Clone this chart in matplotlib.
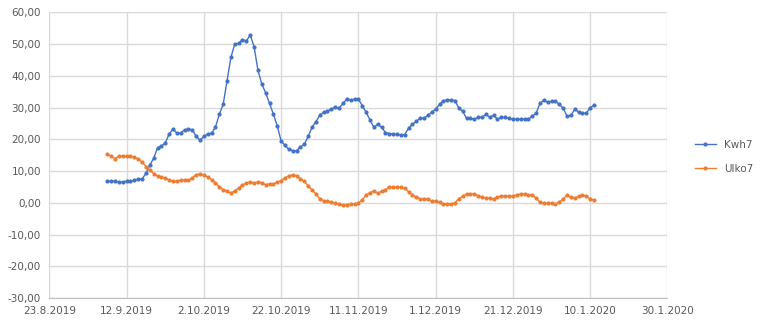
import matplotlib
matplotlib.use("Agg")
import matplotlib.pyplot as plt
import matplotlib.dates as mdates
from matplotlib.ticker import FuncFormatter, MultipleLocator
import datetime as dt

# daily values 7.9.2019 .. 11.1.2020
start = dt.date(2019, 9, 7)
kwh7 = [6.8, 6.8, 6.8, 6.5, 6.5, 6.8, 6.8, 7.1, 7.4, 7.4,
        9.3, 11.8, 14.0, 17.3, 17.9, 18.8, 21.6, 23.3, 21.9, 21.9,
        23.0, 23.2, 23.0, 20.9, 19.7, 20.9, 21.7, 21.9, 23.8, 27.9,
        31.0, 38.4, 45.8, 50.0, 50.2, 51.4, 51.0, 52.8, 49.2, 41.7,
        37.4, 34.6, 31.3, 27.9, 24.2, 19.4, 18.1, 16.8, 16.4, 16.4,
        17.6, 18.4, 20.9, 23.8, 25.5, 27.6, 28.5, 28.9, 29.5, 30.1,
        29.8, 31.3, 32.6, 32.4, 32.6, 32.7, 30.6, 28.5, 26.1, 23.8,
        24.7, 23.8, 22.1, 21.8, 21.6, 21.6, 21.3, 21.5, 23.6, 24.7,
        25.7, 26.6, 26.6, 27.6, 28.5, 29.5, 31.0, 32.1, 32.4, 32.4,
        32.2, 29.8, 28.8, 26.6, 26.6, 26.3, 26.9, 26.9, 27.9, 26.9,
        27.6, 26.3, 26.9, 26.9, 26.6, 26.3, 26.3, 26.3, 26.3, 26.3,
        27.3, 28.2, 31.3, 32.4, 31.6, 32.0, 32.0, 31.0, 29.8, 27.3,
        27.6, 29.4, 28.6, 28.2, 28.2, 30.0, 30.7]
ulko7 = [15.4, 14.6, 13.9, 14.7, 14.7, 14.7, 14.7, 14.4, 13.7, 12.9,
         11.4, 10.4, 9.2, 8.4, 8.1, 7.8, 7.2, 6.7, 6.7, 7.1,
         7.1, 7.1, 7.8, 8.8, 9.1, 8.7, 8.1, 7.3, 6.2, 5.1,
         4.1, 3.7, 3.0, 3.8, 4.6, 5.6, 6.2, 6.5, 6.2, 6.5,
         6.3, 5.7, 6.0, 6.0, 6.4, 7.0, 7.9, 8.5, 8.8, 8.5,
         7.5, 6.8, 5.3, 4.1, 2.8, 1.2, 0.7, 0.5, 0.2, -0.1,
         -0.4, -0.7, -0.8, -0.4, -0.4, -0.1, 1.0, 2.4, 3.2, 3.7,
         3.1, 3.6, 4.1, 4.9, 4.9, 4.9, 4.9, 4.5, 3.5, 2.4,
         1.8, 1.2, 1.2, 1.2, 0.5, 0.5, 0.2, -0.4, -0.4, -0.4,
         0.0, 1.3, 2.0, 2.8, 2.8, 2.8, 2.2, 1.8, 1.5, 1.5,
         1.2, 1.8, 2.1, 2.1, 2.1, 2.1, 2.5, 2.8, 2.8, 2.5,
         2.5, 1.5, 0.2, -0.1, -0.1, -0.1, -0.4, 0.2, 1.2, 2.4,
         1.8, 1.5, 2.0, 2.4, 2.0, 1.2, 0.8]
dates = [start + dt.timedelta(days=i) for i in range(len(kwh7))]

fig = plt.figure(figsize=(7.77, 3.28), dpi=100)
ax = fig.add_axes([0.0635, 0.0915, 0.7955, 0.871])

ax.plot(dates, kwh7, color="#4472C4", lw=1.0, marker="o", ms=2.0, label="Kwh7")
ax.plot(dates, ulko7, color="#ED7D31", lw=1.0, marker="o", ms=2.0, label="Ulko7")

ax.set_ylim(-30, 60)
ax.yaxis.set_major_locator(MultipleLocator(10))
ax.yaxis.set_major_formatter(FuncFormatter(lambda v, p: f"{v:.2f}".replace(".", ",")))

ax.set_xlim(dt.date(2019, 8, 23), dt.date(2020, 1, 30))
ticks = [dt.date(2019, 8, 23) + dt.timedelta(days=20 * k) for k in range(9)]
ax.set_xticks(ticks)


def date_label(v, p):
    d = mdates.num2date(v)
    return f"{d.day}.{d.month}.{d.year}"


ax.xaxis.set_major_formatter(FuncFormatter(date_label))

ax.grid(True, color="#d9d9d9", lw=1.0)
ax.set_axisbelow(True)
for s in ["top", "right", "left"]:
    ax.spines[s].set_visible(False)
ax.spines["bottom"].set_color("#bfbfbf")
ax.tick_params(length=0, labelsize=7.5, labelcolor="#595959")
ax.tick_params(axis="x", pad=6)
ax.tick_params(axis="y", pad=6)

fig.legend(loc="center left", bbox_to_anchor=(0.882, 0.522), frameon=False,
           fontsize=7.5, labelcolor="#595959", handlelength=2.0,
           labelspacing=1.3, handletextpad=0.8)

fig.savefig("out.png", dpi=100)
